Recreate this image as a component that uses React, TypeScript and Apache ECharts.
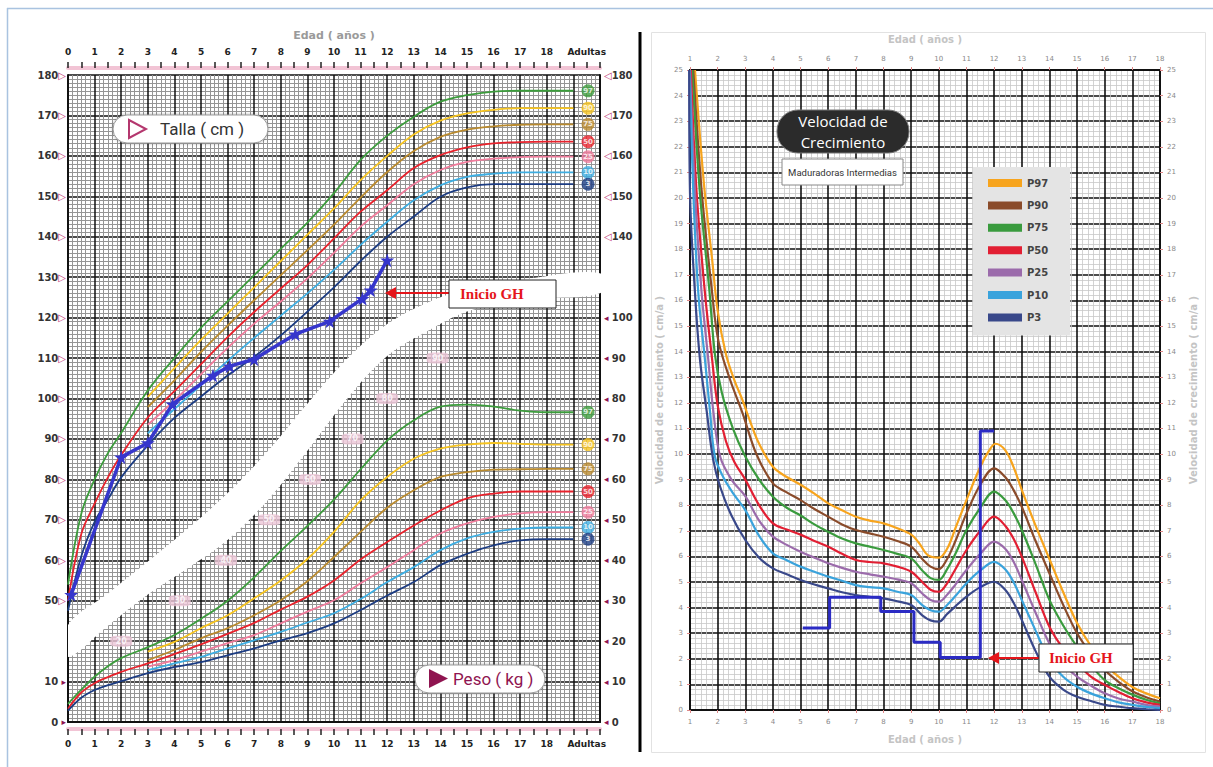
import React, { useEffect, useRef } from 'react';
import * as echarts from 'echarts';

const FONT = 'DejaVu Sans';

// ---------------- Left chart (Talla / Peso) ----------------
const agesFull = [0, 0.5, 1, 1.5, 2, 3, 4, 5, 6, 7, 8, 9, 10, 11, 12, 13, 14, 15, 16, 17, 18, 19];
const agesFrom3 = [3, 4, 5, 6, 7, 8, 9, 10, 11, 12, 13, 14, 15, 16, 17, 18, 19];

const tallaP97 = [54, 71.5, 80, 86.5, 91.5, 102, 110, 117.5, 124, 130.5, 137, 143.5, 150.8, 159, 165, 169.7, 173.4, 175, 175.9, 176.1, 176.1, 176.1];
const tallaP90 = [100.4, 107.5, 114.5, 121, 127.5, 134, 140.5, 147, 154, 160, 165.3, 168.7, 170.5, 171.4, 171.8, 171.8, 171.8];
const tallaP75 = [97.9, 104.5, 111.5, 118, 124.3, 130.5, 136.7, 143, 149.7, 156, 161.2, 164.7, 166.5, 167.3, 167.7, 167.8, 167.8];
const tallaP50 = [50, 66.5, 74, 80.5, 86, 95.3, 101.8, 108.5, 115.2, 121.4, 127.2, 133, 139.6, 146.2, 151.5, 157, 160.2, 162.1, 163.1, 163.4, 163.5, 163.5];
const tallaP25 = [93.5, 99.5, 106, 112.5, 118.5, 124, 129.7, 136, 142.5, 147.8, 153, 156.5, 158.5, 159.3, 159.7, 159.8, 159.8];
const tallaP10 = [91.4, 97.4, 103.3, 109.3, 115, 120.5, 126, 131.8, 138, 143.7, 149, 152.7, 154.8, 155.6, 155.9, 155.9, 155.9];
const tallaP3 = [47.5, 61, 69.5, 75, 80.5, 88.4, 95.2, 100.5, 105.7, 110.3, 115.6, 121.5, 127.5, 134, 140, 145, 149.9, 152.2, 153, 153, 153, 153];

const pesoP97 = [4.5, 8, 11.2, 13.8, 15.8, 18.5, 21.5, 25.5, 30, 35.8, 42.3, 48.5, 55, 62.5, 69.6, 74.6, 78, 78.5, 78, 77, 76.6, 76.6];
const pesoP90 = [17.4, 19.8, 23.2, 26.4, 30.6, 35, 40.3, 47, 54.8, 60.6, 65.1, 67.6, 68.6, 69, 68.8, 68.6, 68.6];
const pesoP75 = [15.3, 17.8, 20.7, 23.2, 26.4, 30.1, 34.8, 40.8, 47, 53, 57.3, 60.6, 61.8, 62.4, 62.5, 62.6, 62.6];
const pesoP50 = [3.3, 7.3, 9.6, 11.1, 12.4, 14.5, 16.8, 19.2, 21.8, 24.5, 27.8, 31, 35, 40.2, 44.5, 48.6, 52.3, 55.3, 56.5, 57, 57, 57];
const pesoP25 = [13.7, 15.3, 17.4, 19.5, 21.5, 24.4, 27.3, 30.1, 34.3, 38.3, 42.5, 46.6, 49.1, 50.7, 51.6, 51.9, 51.9];
const pesoP10 = [12.8, 14.5, 16.1, 18.2, 20.2, 22.3, 24.6, 26.9, 30.4, 34.6, 38.3, 42.5, 45.4, 47, 47.8, 48.1, 48.1];
const pesoP3 = [2.8, 6, 7.9, 9.1, 10.1, 12.1, 13.6, 14.8, 16.5, 18.2, 20.2, 22, 24.4, 27.7, 31.3, 34.6, 38.8, 41.6, 43.7, 44.9, 45.2, 45.2];

const percentileNames = ['97', '90', '75', '50', '25', '10', '3'];
const leftColors = ['#3c9c3c', '#f6c420', '#b98a2e', '#e8222c', '#f07c9c', '#3eaee2', '#1c3c82'];

const patientAges = [0.12, 2.0, 3.0, 3.93, 5.45, 6.08, 7.0, 8.55, 9.84, 11.07, 11.38, 12.0];
const patientTalla = [51.5, 85.5, 89, 98.6, 105.7, 108, 109.7, 115.9, 119.1, 124.7, 126.8, 134.2];

const bandAges = [0, 1.5, 3, 4.5, 6, 7.5, 9, 10.5, 12, 13.5, 15, 17, 20];
const bandLowerKg = [16.1, 23.8, 31.5, 38, 45, 54.8, 67.1, 80, 90.5, 96.6, 101.5, 104.5, 106];
const bandUpperKg = [24, 31.8, 39.7, 47.8, 56.6, 66.9, 78.7, 89.8, 98.4, 103.7, 107.1, 109.3, 111];

const bandLabelAges = [2.0, 4.2, 5.94, 7.56, 9.1, 10.7, 12.0, 13.9];
const bandLabelKg = [20, 30, 40, 50, 60, 70, 80, 90];

// ---------------- Right chart (Velocidad) ----------------
const velNames = ['P97', 'P90', 'P75', 'P50', 'P25', 'P10', 'P3'];
const velColors = ['#f7a41d', '#8a4b2a', '#3a9b3e', '#e21f33', '#9b6bab', '#3aa3dc', '#39488a'];

const velP97 = [[1.18, 25], [1.5, 20.6], [1.8, 17.6], [2.0, 15.6], [2.3, 13.9], [2.6, 12.9], [2.9, 12.1], [3.2, 11.2], [3.5, 10.4], [4, 9.5], [4.5, 9.1], [5, 8.8], [5.5, 8.45], [6, 8.07], [6.5, 7.8], [7, 7.55], [7.5, 7.4], [8, 7.29], [8.5, 7.1], [9, 6.85], [9.3, 6.5], [9.6, 6.05], [10, 5.95], [10.3, 6.3], [10.6, 7.1], [11, 8.2], [11.5, 9.5], [11.8, 10.1], [12.05, 10.4], [12.4, 10.15], [12.7, 9.5], [13, 8.6], [13.5, 7.2], [14, 5.9], [14.5, 4.6], [15, 3.4], [15.5, 2.5], [16, 1.8], [16.5, 1.3], [17, 0.9], [17.5, 0.65], [18, 0.46]];
const velP90 = [[1.12, 25], [1.42, 20.3], [1.8, 16.3], [2.03, 14.4], [2.45, 12.9], [2.9, 11.6], [3.4, 10.0], [4, 8.85], [4.5, 8.5], [5, 8.2], [5.5, 7.85], [6, 7.55], [6.5, 7.25], [7, 7.03], [7.5, 6.9], [8, 6.77], [8.5, 6.6], [9, 6.38], [9.4, 5.9], [9.7, 5.6], [10, 5.5], [10.3, 5.9], [10.6, 6.6], [11, 7.68], [11.5, 8.8], [12, 9.44], [12.4, 9.1], [12.7, 8.6], [13, 7.94], [13.5, 6.6], [14, 5.34], [14.5, 4.1], [15, 3.0], [15.5, 2.2], [16, 1.56], [16.5, 1.1], [17, 0.73], [17.5, 0.5], [18, 0.33]];
const velP75 = [[1.08, 25], [1.35, 20.3], [1.7, 16.4], [1.9, 13.9], [2.15, 12.4], [2.55, 11.0], [3, 9.9], [3.5, 9.0], [4, 8.33], [4.5, 7.9], [5, 7.6], [5.5, 7.25], [6, 6.96], [6.5, 6.7], [7, 6.51], [7.5, 6.38], [8, 6.25], [8.5, 6.1], [9, 5.92], [9.4, 5.45], [9.7, 5.15], [10, 5.08], [10.3, 5.5], [10.6, 6.1], [11, 7.03], [11.5, 7.9], [12, 8.53], [12.4, 8.2], [12.7, 7.7], [13, 7.03], [13.5, 5.7], [14, 4.3], [14.5, 3.3], [15, 2.47], [15.5, 1.75], [16, 1.17], [16.5, 0.85], [17, 0.6], [17.5, 0.4], [18, 0.26]];
const velP50 = [[1.03, 25], [1.24, 20.2], [1.54, 16.3], [1.8, 13.7], [2, 11.9], [2.3, 10.5], [2.6, 9.7], [3, 9.0], [3.5, 8.0], [4, 7.29], [4.5, 7.05], [5, 6.85], [5.5, 6.6], [6, 6.38], [6.5, 6.1], [7, 5.86], [7.5, 5.78], [8, 5.73], [8.5, 5.6], [9, 5.4], [9.4, 5.0], [9.7, 4.7], [10, 4.62], [10.3, 4.95], [10.6, 5.5], [11, 6.25], [11.5, 7.0], [12, 7.55], [12.4, 7.2], [12.7, 6.7], [13, 5.99], [13.5, 4.6], [14, 3.25], [14.5, 2.4], [15, 1.82], [15.5, 1.3], [16, 0.98], [16.5, 0.7], [17, 0.46], [17.5, 0.3], [18, 0.2]];
const velP25 = [[1.0, 25], [1.18, 20.2], [1.42, 16.3], [1.66, 13.7], [1.84, 11.7], [2.09, 9.9], [2.5, 9.0], [3, 8.35], [3.5, 7.4], [4, 6.77], [4.5, 6.45], [5, 6.18], [5.5, 5.95], [6, 5.73], [6.5, 5.55], [7, 5.4], [7.5, 5.3], [8, 5.21], [8.5, 5.1], [9, 4.95], [9.4, 4.55], [9.7, 4.3], [10, 4.23], [10.3, 4.5], [10.6, 4.9], [11, 5.47], [11.5, 6.1], [12, 6.58], [12.4, 6.3], [12.7, 5.8], [13, 5.08], [13.5, 3.8], [14, 2.6], [14.5, 1.8], [15, 1.3], [15.5, 0.95], [16, 0.65], [16.5, 0.45], [17, 0.33], [17.5, 0.2], [18, 0.13]];
const velP10 = [[0.98, 25], [1.12, 20.2], [1.3, 16.3], [1.54, 13.7], [1.72, 11.7], [1.9, 9.9], [2.2, 9.1], [2.6, 8.4], [3, 7.81], [3.5, 6.8], [4, 6.12], [4.5, 5.85], [5, 5.6], [5.5, 5.4], [6, 5.21], [6.5, 5.05], [7, 4.88], [7.5, 4.8], [8, 4.75], [8.5, 4.62], [9, 4.49], [9.4, 4.1], [9.7, 3.9], [10, 3.84], [10.3, 4.1], [10.6, 4.45], [11, 4.95], [11.5, 5.45], [12, 5.79], [12.4, 5.5], [12.7, 5.0], [13, 4.3], [13.5, 3.1], [14, 1.95], [14.5, 1.3], [15, 0.91], [15.5, 0.65], [16, 0.46], [16.5, 0.3], [17, 0.2], [17.5, 0.12], [18, 0.07]];
const velP3 = [[0.97, 25], [1.0, 20.2], [1.18, 16.3], [1.36, 13.7], [1.6, 11.7], [1.84, 9.77], [2.09, 8.72], [2.5, 7.6], [3, 6.64], [3.5, 5.95], [4, 5.53], [4.5, 5.3], [5, 5.08], [5.5, 4.9], [6, 4.75], [6.5, 4.6], [7, 4.49], [7.5, 4.42], [8, 4.36], [8.5, 4.25], [9, 4.1], [9.4, 3.7], [9.7, 3.5], [10, 3.45], [10.3, 3.75], [10.6, 4.05], [11, 4.43], [11.5, 4.8], [12, 5.01], [12.4, 4.7], [12.7, 4.2], [13, 3.52], [13.5, 2.3], [14, 1.3], [14.5, 0.8], [15, 0.52], [15.5, 0.35], [16, 0.2], [16.5, 0.13], [17, 0.07], [17.5, 0.03], [18, 0.0]];

const stepAges = [5.08, 6.05, 7.9, 9.1, 10.05, 11.5, 12];
const stepVelocity = [3.2, 4.4, 3.85, 2.65, 2.05, 10.9, 10.9];

const zip = (xs: number[], ys: number[]) => xs.map((x, i) => [x, ys[i]]);

const STAR = 'path://M50,0 L61,35 L98,35 L68,57 L79,91 L50,70 L21,91 L32,57 L2,35 L39,35 Z';

function buildOption(): any {
  const tallaSets = [tallaP97, tallaP90, tallaP75, tallaP50, tallaP25, tallaP10, tallaP3];
  const pesoSets = [pesoP97, pesoP90, pesoP75, pesoP50, pesoP25, pesoP10, pesoP3];
  const agesFor = (i: number) => (i === 0 || i === 3 || i === 6 ? agesFull : agesFrom3);
  const velSets = [velP97, velP90, velP75, velP50, velP25, velP10, velP3];

  const ageLabel = (v: number) => {
    if (Math.abs(v - 19.5) < 1e-6) return 'Adultas';
    if (Number.isInteger(v) && v <= 18) return String(v);
    return '';
  };

  const stripAxis = (pos: 'top' | 'bottom') => ({
    type: 'value', gridIndex: 0, min: 0, max: 20, interval: 0.5, position: pos, offset: 7,
    axisLine: { show: true, onZero: false, lineStyle: { color: '#f2c4d5', width: 4 } },
    axisTick: { show: true, interval: 0, length: 6, lineStyle: { color: '#222', width: 1.5 } },
    axisLabel: {
      show: true, interval: 0, hideOverlap: false, margin: pos === 'top' ? 12 : 10,
      fontFamily: FONT, fontSize: 9, fontWeight: 'bold', color: '#222', formatter: ageLabel,
    },
    splitLine: { show: false },
    ...(pos === 'top'
      ? { name: 'Edad ( años )', nameLocation: 'middle', nameGap: 27,
          nameTextStyle: { color: '#9a9a9a', fontFamily: FONT, fontSize: 11, fontWeight: 'bold' } }
      : {}),
  });

  const rich = {
    n: { fontFamily: FONT, fontSize: 10, fontWeight: 'bold', color: '#333' },
    t: { fontFamily: FONT, fontSize: 10, color: '#c23a78' },
    f: { fontFamily: FONT, fontSize: 9, color: '#8f1450' },
  };

  const velAxisLabel = { fontFamily: FONT, fontSize: 7, color: '#888', hideOverlap: false, interval: 0 };
  const velName = { color: '#c4c4c4', fontFamily: FONT, fontSize: 10, fontWeight: 'bold' };

  const series: any[] = [];

  // white band separating the Talla and Peso areas, drawn through the axes' scales
  series.push({
    name: 'band', type: 'custom', xAxisIndex: 0, yAxisIndex: 1, silent: true, z: 2,
    data: [[bandAges[0], bandLowerKg[0]]],
    encode: { x: 0, y: 1 },
    renderItem: (params: any, api: any) => {
      const upper = bandAges.map((a, i) => api.coord([a, bandUpperKg[i]]));
      const lower = bandAges.map((a, i) => api.coord([a, bandLowerKg[i]])).reverse();
      const cs = params.coordSys;
      return {
        type: 'polygon',
        shape: { points: upper.concat(lower), smooth: 0.35 },
        style: { fill: '#ffffff', stroke: 'none' },
        clipPath: { type: 'rect', shape: { x: cs.x, y: cs.y - 2, width: cs.width + 2, height: cs.height + 4 } },
      };
    },
  });

  tallaSets.forEach((arr, i) => {
    series.push({
      name: 'Talla ' + percentileNames[i], type: 'line', xAxisIndex: 0, yAxisIndex: 0,
      data: zip(agesFor(i), arr), smooth: 0.35, symbol: 'none', silent: true,
      lineStyle: { color: leftColors[i], width: 1.8 }, itemStyle: { color: leftColors[i] }, z: 3,
    });
  });
  pesoSets.forEach((arr, i) => {
    series.push({
      name: 'Peso ' + percentileNames[i], type: 'line', xAxisIndex: 0, yAxisIndex: 1,
      data: zip(agesFor(i), arr), smooth: 0.35, symbol: 'none', silent: true,
      lineStyle: { color: leftColors[i], width: 1.8 }, itemStyle: { color: leftColors[i] }, z: 3,
    });
  });

  series.push({
    name: 'Paciente', type: 'line', xAxisIndex: 0, yAxisIndex: 0, data: zip(patientAges, patientTalla),
    symbol: STAR, symbolSize: 14, showSymbol: true,
    lineStyle: { color: '#3636cc', width: 3.5 }, itemStyle: { color: '#3636cc' }, z: 5,
  });

  const badgeAge = 19.55;
  const badgeSeries = (sets: number[][], yAxisIndex: number, name: string) => ({
    name, type: 'scatter', xAxisIndex: 0, yAxisIndex, symbol: 'circle', symbolSize: 13, silent: true, z: 6,
    data: sets.map((arr, i) => ({ value: [badgeAge, arr[arr.length - 1]], name: percentileNames[i], itemStyle: { color: leftColors[i] } })),
    label: { show: true, position: 'inside', formatter: '{b}', color: '#fff', fontFamily: FONT, fontSize: 7, fontWeight: 'bold' },
  });
  series.push(badgeSeries(tallaSets, 0, 'badgesTalla'));
  series.push(badgeSeries(pesoSets, 1, 'badgesPeso'));

  series.push({
    name: 'bandLabels', type: 'scatter', xAxisIndex: 0, yAxisIndex: 1, symbol: 'roundRect', symbolSize: [22, 11],
    silent: true, z: 4, data: zip(bandLabelAges, bandLabelKg), itemStyle: { color: '#ecc6d7' },
    label: { show: true, position: 'inside', formatter: (p: any) => String(p.value[1]), color: '#fff', fontFamily: FONT, fontSize: 8, fontWeight: 'bold' },
  });

  velSets.forEach((arr, i) => {
    series.push({
      name: velNames[i], type: 'line', xAxisIndex: 3, yAxisIndex: 2, data: arr, smooth: 0.35,
      symbol: 'none', silent: true, color: velColors[i],
      lineStyle: { color: velColors[i], width: 2.2 }, itemStyle: { color: velColors[i] }, z: 3,
    });
  });
  series.push({
    name: 'Velocidad paciente', type: 'line', xAxisIndex: 3, yAxisIndex: 2, step: 'end',
    data: zip(stepAges, stepVelocity), symbol: 'none', silent: true,
    lineStyle: { color: '#2b2bc4', width: 3 }, z: 5,
  });

  const arrow = (x1: number, x2: number, y: number) => ([
    { type: 'line', z: 100, shape: { x1, y1: y, x2: x2 + 8, y2: y }, style: { stroke: '#e5161b', lineWidth: 2 } },
    { type: 'polygon', z: 100, shape: { points: [[x2, y], [x2 + 11, y - 6], [x2 + 11, y + 6]] }, style: { fill: '#e5161b' } },
  ]);

  const txt = (text: string, x: number, y: number, extra: any) => ({
    type: 'text', z: 101,
    style: { text, x, y, align: 'left', verticalAlign: 'middle', textAlign: 'left', textVerticalAlign: 'middle', ...extra },
  });

  const graphic: any[] = [
    // outer frame lines
    { type: 'line', z: 100, shape: { x1: 7.5, y1: 8, x2: 7.5, y2: 767 }, style: { stroke: '#a9c3e0', lineWidth: 1.5 } },
    { type: 'line', z: 100, shape: { x1: 7, y1: 8.5, x2: 1213, y2: 8.5 }, style: { stroke: '#a9c3e0', lineWidth: 1.5 } },
    { type: 'rect', z: 1, shape: { x: 651.5, y: 32.5, width: 554, height: 720 }, style: { fill: 'none', stroke: '#e2e2e2', lineWidth: 1 } },
    { type: 'line', z: 100, shape: { x1: 640, y1: 32, x2: 640, y2: 752 }, style: { stroke: '#000', lineWidth: 3 } },

    // Talla box
    { type: 'rect', z: 100, shape: { x: 113, y: 115, width: 155, height: 28, r: 14 }, style: { fill: '#fff', stroke: '#999', lineWidth: 1, shadowBlur: 3, shadowColor: 'rgba(0,0,0,0.35)' } },
    { type: 'polygon', z: 101, shape: { points: [[129, 120], [129, 138], [146, 129]] }, style: { fill: '#fff', stroke: '#b4376e', lineWidth: 2 } },
    txt('Talla ( cm )', 160, 129, { fill: '#333', fontFamily: 'Roboto', fontSize: 17 }),

    // Peso box
    { type: 'rect', z: 100, shape: { x: 415, y: 665, width: 130, height: 28, r: 14 }, style: { fill: '#fff', stroke: '#999', lineWidth: 1, shadowBlur: 3, shadowColor: 'rgba(0,0,0,0.35)' } },
    { type: 'polygon', z: 101, shape: { points: [[429, 669], [429, 688], [448, 678.5]] }, style: { fill: '#8f1450' } },
    txt('Peso ( kg )', 453, 679, { fill: '#8f1450', fontFamily: 'Roboto', fontSize: 17 }),

    // Inicio GH (left)
    ...arrow(449, 385, 293),
    { type: 'rect', z: 100, shape: { x: 449, y: 280, width: 107, height: 28 }, style: { fill: '#fff', stroke: '#222', lineWidth: 1 } },
    txt('Inicio GH', 460, 294, { fill: '#e5161b', fontFamily: 'Liberation Serif', fontSize: 15, fontWeight: 'bold' }),

    // Inicio GH (right)
    ...arrow(1039, 988, 658),
    { type: 'rect', z: 100, shape: { x: 1039, y: 644, width: 94, height: 28 }, style: { fill: '#fff', stroke: '#222', lineWidth: 1 } },
    txt('Inicio GH', 1049, 658, { fill: '#e5161b', fontFamily: 'Liberation Serif', fontSize: 15, fontWeight: 'bold' }),

    // Velocidad title
    { type: 'rect', z: 100, shape: { x: 777, y: 110, width: 132, height: 43, r: 21 }, style: { fill: '#2b2b2b', stroke: '#777', lineWidth: 1 } },
    txt('Velocidad de', 843, 121, { fill: '#fff', fontFamily: 'Open Sans', fontSize: 15, align: 'center', textAlign: 'center' }),
    txt('Crecimiento', 843, 142, { fill: '#fff', fontFamily: 'Open Sans', fontSize: 15, align: 'center', textAlign: 'center' }),
    { type: 'rect', z: 100, shape: { x: 782, y: 159, width: 121, height: 26 }, style: { fill: '#fff', stroke: '#888', lineWidth: 1 } },
    txt('Maduradoras Intermedias', 842.5, 172, { fill: '#333', fontFamily: 'Roboto', fontSize: 9.5, align: 'center', textAlign: 'center' }),
  ];

  return {
    animation: false,
    backgroundColor: '#ffffff',
    graphic,
    legend: {
      data: velNames, left: 973, top: 167, orient: 'vertical', backgroundColor: '#e4e4e4',
      padding: [10, 22, 12, 15], itemWidth: 34, itemHeight: 8, itemGap: 10.4, icon: 'rect', selectedMode: false,
      textStyle: { fontFamily: FONT, fontSize: 10, fontWeight: 'bold', color: '#444', lineHeight: 12 },
    },
    grid: [
      { left: 68, top: 75, width: 532, height: 647, containLabel: false, outerBoundsMode: 'none' },
      { left: 690, top: 70, width: 470, height: 640, containLabel: false, outerBoundsMode: 'none' },
    ],
    xAxis: [
      {
        type: 'value', gridIndex: 0, min: 0, max: 20, interval: 1, position: 'bottom',
        axisLine: { show: true, onZero: false, lineStyle: { color: '#111', width: 2 } },
        axisTick: { show: false }, axisLabel: { show: false },
        splitLine: { show: true, lineStyle: { color: '#111', width: 1.5 } },
        minorTick: { show: false, splitNumber: 6 },
        minorSplitLine: { show: true, lineStyle: { color: '#959595', width: 1 } },
      },
      stripAxis('bottom'),
      stripAxis('top'),
      {
        type: 'value', gridIndex: 1, min: 1, max: 18, interval: 1, position: 'bottom',
        axisLine: { show: true, onZero: false, lineStyle: { color: '#111', width: 2 } },
        axisTick: { show: true, length: 3, lineStyle: { color: '#d88' } },
        axisLabel: { ...velAxisLabel, margin: 8 },
        splitLine: { show: true, lineStyle: { color: '#111', width: 1.6 } },
        minorTick: { show: false, splitNumber: 5 },
        minorSplitLine: { show: true, lineStyle: { color: '#c8c8c8', width: 0.8 } },
        name: 'Edad ( años )', nameLocation: 'middle', nameGap: 24, nameTextStyle: velName,
      },
      {
        type: 'value', gridIndex: 1, min: 1, max: 18, interval: 1, position: 'top',
        axisLine: { show: true, onZero: false, lineStyle: { color: '#111', width: 2 } },
        axisTick: { show: true, length: 3, lineStyle: { color: '#d88' } },
        axisLabel: { ...velAxisLabel, margin: 8 },
        splitLine: { show: false },
        name: 'Edad ( años )', nameLocation: 'middle', nameGap: 26, nameTextStyle: velName,
      },
    ],
    yAxis: [
      {
        type: 'value', gridIndex: 0, min: 20, max: 180, interval: 10, position: 'left',
        axisLine: { show: true, onZero: false, lineStyle: { color: '#111', width: 2 } },
        axisTick: { show: false },
        axisLabel: {
          show: true, margin: 2, hideOverlap: false, rich,
          formatter: (v: number) => {
            if (v >= 50) return `{n|${v}}{t|▷}`;
            if (v <= 30) return `{n|${v - 20}} {f|▸}`;
            return '';
          },
        },
        splitLine: { show: true, lineStyle: { color: '#111', width: 1.5 } },
        minorTick: { show: false, splitNumber: 10 },
        minorSplitLine: { show: true, lineStyle: { color: '#959595', width: 1 } },
      },
      {
        type: 'value', gridIndex: 0, min: 0, max: 160, interval: 10, position: 'right',
        axisLine: { show: true, onZero: false, lineStyle: { color: '#111', width: 2 } },
        axisTick: { show: false },
        axisLabel: {
          show: true, margin: 4, hideOverlap: false, rich,
          formatter: (w: number) => {
            if (w <= 100) return `{f|◂} {n|${w}}`;
            if (w >= 120) return `{t|◁}{n|${w + 20}}`;
            return '';
          },
        },
        splitLine: { show: false },
      },
      {
        type: 'value', gridIndex: 1, min: 0, max: 25, interval: 1, position: 'left',
        axisLine: { show: true, onZero: false, lineStyle: { color: '#111', width: 2 } },
        axisTick: { show: true, length: 3, lineStyle: { color: '#d88' } },
        axisLabel: { ...velAxisLabel, margin: 7 },
        splitLine: { show: true, lineStyle: { color: '#111', width: 1.6 } },
        minorTick: { show: false, splitNumber: 5 },
        minorSplitLine: { show: true, lineStyle: { color: '#c8c8c8', width: 0.8 } },
        name: 'Velocidad de crecimiento ( cm/a )', nameLocation: 'middle', nameGap: 26, nameRotate: 90, nameTextStyle: velName,
      },
      {
        type: 'value', gridIndex: 1, min: 0, max: 25, interval: 1, position: 'right',
        axisLine: { show: true, onZero: false, lineStyle: { color: '#111', width: 2 } },
        axisTick: { show: true, length: 3, lineStyle: { color: '#d88' } },
        axisLabel: { ...velAxisLabel, margin: 7 },
        splitLine: { show: false },
        name: 'Velocidad de crecimiento ( cm/a )', nameLocation: 'middle', nameGap: 28, nameRotate: 90, nameTextStyle: velName,
      },
    ],
    series,
  };
}

export default function App() {
  const ref = useRef<HTMLDivElement>(null);
  useEffect(() => {
    if (!ref.current) return;
    const chart = echarts.init(ref.current, undefined, { renderer: 'svg' });
    chart.setOption(buildOption());
    return () => chart.dispose();
  }, []);
  return (
    <div
      ref={ref}
      style={{ position: 'fixed', left: 0, top: 0, width: 1213, height: 767, background: '#fff' }}
    />
  );
}
